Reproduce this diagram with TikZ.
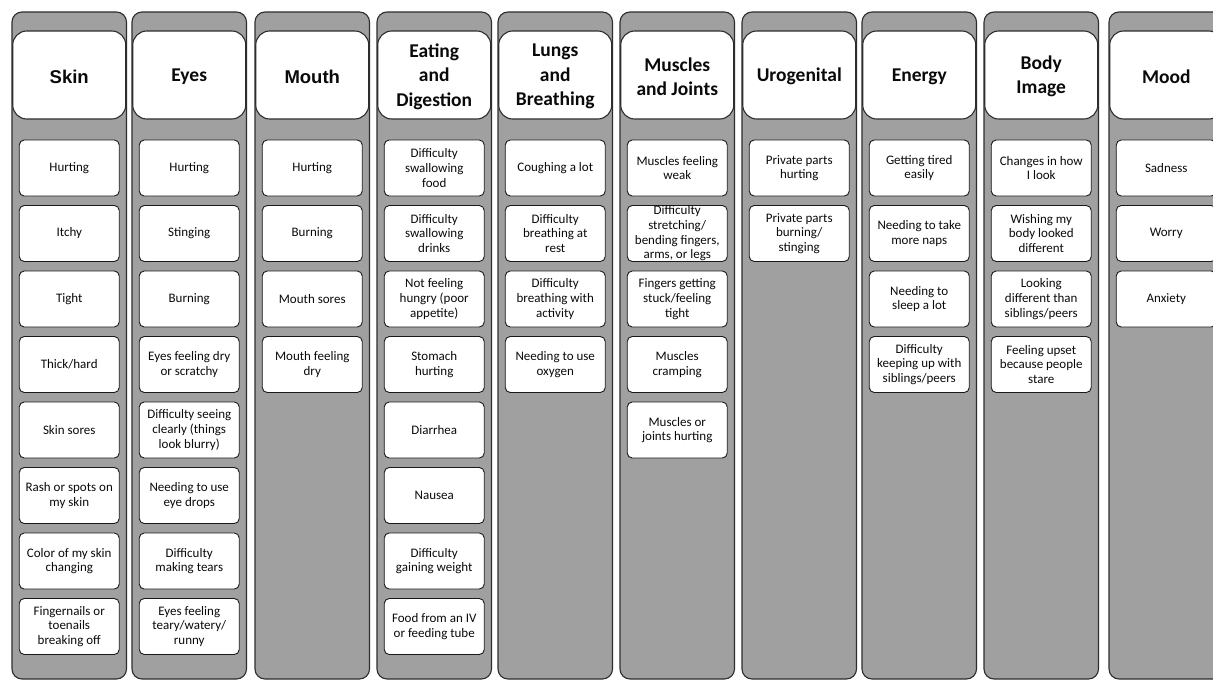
\documentclass[tikz,border=0pt]{standalone}
\usepackage{fontspec}
\setmainfont{Carlito}
\newfontfamily\arialf{Liberation Sans}
\definecolor{colgrey}{RGB}{160,160,160}
\definecolor{edgec}{RGB}{45,45,45}
\definecolor{textc}{RGB}{10,10,10}
\tikzset{
  colbox/.style={draw=edgec, line width=1.1pt, fill=colgrey, rounded corners=10pt,
    minimum width=114.5pt, minimum height=667pt, inner sep=0pt},
  headbox/.style={draw=edgec, line width=1.1pt, fill=white, rounded corners=14pt,
    minimum width=113pt, minimum height=88pt, inner sep=0pt},
  headtext/.style={inner sep=0pt, align=center, text=textc,
    font=\fontsize{19.5}{24.5}\selectfont\bfseries},
  headarial/.style={font=\arialf\fontsize{18.5}{22}\selectfont\bfseries},
  itembox/.style={draw=black!90, line width=0.9pt, fill=white, rounded corners=5pt,
    minimum width=100pt, minimum height=56pt, inner sep=0pt, align=center, text=textc,
    font=\fontsize{13}{14.7}\selectfont},
}
\newcommand\itemcol[3]{%
  \foreach \itm [count=\k] in {#3}
    \node[itembox] (c#1i\k) at (#2, {168+65.5*(\k-1)}) {\itm};%
}
\newcommand\column[4]{%
  \node[colbox] (c#1) at (#2, 345.5) {};
  \node[headbox] (h#1) at (#2, 75) {};
  \node[headtext, #3] (t#1) at (#2, 76.5) {#4};
}
\begin{document}
\begin{tikzpicture}[x=1pt, y=-1pt]
\useasboundingbox (0,0) rectangle (1213,680);
\fill[white] (0,0) rectangle (1213,680);

\column{1}{69.25}{headarial}{Skin}
\column{2}{189.25}{}{Eyes}
\column{3}{312.25}{headarial}{Mouth}
\column{4}{434.25}{}{Eating\\and\\Digestion}
\column{5}{555.25}{}{Lungs\\and\\Breathing}
\column{6}{677.25}{}{Muscles\\and Joints}
\column{7}{799.25}{}{Urogenital}
\column{8}{919.25}{}{Energy}
\column{9}{1041.25}{}{Body\\Image}
\column{10}{1166.25}{}{Mood}

\itemcol{1}{69.25}{Hurting, Itchy, Tight, Thick/hard, Skin sores,
  {Rash or spots on\\my skin}, {Color of my skin\\changing},
  {Fingernails or\\toenails\\breaking off}}
\itemcol{2}{189.25}{Hurting, Stinging, Burning, {Eyes feeling dry\\or scratchy},
  {Difficulty seeing\\clearly (things\\look blurry)}, {Needing to use\\eye drops},
  {Difficulty\\making tears}, {Eyes feeling\\teary/watery/\\runny}}
\itemcol{3}{312.25}{Hurting, Burning, Mouth sores, {Mouth feeling\\dry}}
\itemcol{4}{434.25}{{Difficulty\\swallowing\\food}, {Difficulty\\swallowing\\drinks},
  {Not feeling\\hungry (poor\\appetite)}, {Stomach\\hurting}, Diarrhea, Nausea,
  {Difficulty\\gaining weight}, {Food from an IV\\or feeding tube}}
\itemcol{5}{555.25}{Coughing a lot, {Difficulty\\breathing at\\rest},
  {Difficulty\\breathing with\\activity}, {Needing to use\\oxygen}}
\itemcol{6}{677.25}{{Muscles feeling\\weak}, {Difficulty\\stretching/\\bending fingers,\\arms, or legs},
  {Fingers getting\\stuck/feeling\\tight}, {Muscles\\cramping}, {Muscles or\\joints hurting}}
\itemcol{7}{799.25}{{Private parts\\hurting}, {Private parts\\burning/\\stinging}}
\itemcol{8}{919.25}{{Getting tired\\easily}, {Needing to take\\more naps},
  {Needing to\\sleep a lot}, {Difficulty\\keeping up with\\siblings/peers}}
\itemcol{9}{1041.25}{{Changes in how\\I look}, {Wishing my\\body looked\\different},
  {Looking\\different than\\siblings/peers}, {Feeling upset\\because people\\stare}}
\itemcol{10}{1166.25}{Sadness, Worry, Anxiety}
\end{tikzpicture}
\end{document}
